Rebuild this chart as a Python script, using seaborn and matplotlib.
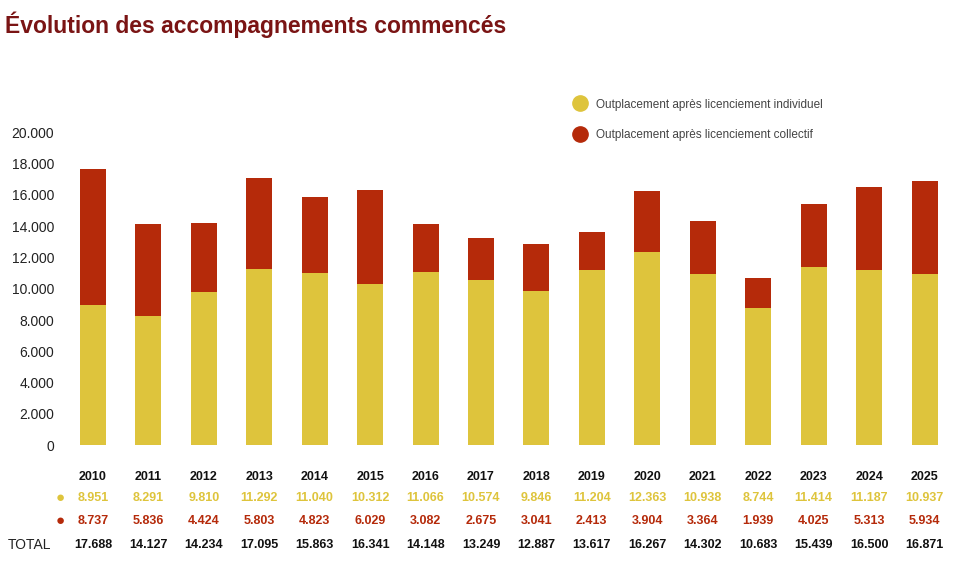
import pandas as pd
import matplotlib.pyplot as plt
import matplotlib.transforms as mtransforms
from matplotlib.lines import Line2D
import seaborn as sns

# Données
years = [str(y) for y in range(2010, 2026)]
individuel = [8951, 8291, 9810, 11292, 11040, 10312, 11066, 10574, 9846, 11204,
              12363, 10938, 8744, 11414, 11187, 10937]
collectif = [8737, 5836, 4424, 5803, 4823, 6029, 3082, 2675, 3041, 2413,
             3904, 3364, 1939, 4025, 5313, 5934]
totaux = [17688, 14127, 14234, 17095, 15863, 16341, 14148, 13249, 12887, 13617,
          16267, 14302, 10683, 15439, 16500, 16871]
yticks = list(range(0, 20001, 2000))

YELLOW = "#DEC43C"
RED = "#B52A0A"
TITLE = "#7A1414"

def fmt(v):
    return f"{v:,}".replace(",", ".")

df = pd.DataFrame({
    "Année": years,
    "Individuel": individuel,
    "Total": [a + b for a, b in zip(individuel, collectif)],
})

sns.set_style("white")
plt.rcParams["font.family"] = ["Liberation Sans", "DejaVu Sans"]

fig = plt.figure(figsize=(9.58, 5.61), dpi=100)
ax = fig.add_axes([0.068, 0.198, 0.926, 0.594])

sns.barplot(data=df, x="Année", y="Total", color=RED, width=0.47,
            saturation=1, linewidth=0, ax=ax)
sns.barplot(data=df, x="Année", y="Individuel", color=YELLOW, width=0.47,
            saturation=1, linewidth=0, ax=ax)

ax.set_xlim(-0.5, len(years) - 0.5)
ax.set_ylim(-300, 21000)
ax.set_yticks(yticks)
ax.set_yticklabels([fmt(t) for t in yticks], fontsize=10, color="#222222")
ax.set_xticks([])
ax.set_xlabel("")
ax.set_ylabel("")
ax.tick_params(axis="y", length=0, pad=8)
sns.despine(ax=ax, left=True, bottom=True)

# Tableau sous le graphique
trans = mtransforms.blended_transform_factory(ax.transData, fig.transFigure)
rows = [
    (years, "#111111", 1 - 477 / 561),
    ([fmt(v) for v in individuel], YELLOW, 1 - 498 / 561),
    ([fmt(v) for v in collectif], RED, 1 - 521 / 561),
    ([fmt(v) for v in totaux], "#111111", 1 - 545 / 561),
]
for labels, color, yf in rows:
    for i, lab in enumerate(labels):
        fig.text(i, yf, lab, transform=trans, ha="center", va="center",
                 fontsize=9, fontweight="bold", color=color)

fig.text(60 / 958, 1 - 498 / 561, "●", color=YELLOW, ha="center", va="center", fontsize=11)
fig.text(60 / 958, 1 - 521 / 561, "●", color=RED, ha="center", va="center", fontsize=11)
fig.text(8 / 958, 1 - 545 / 561, "TOTAL", color="#222222", ha="left", va="center", fontsize=10)

# Légende
handles = [
    Line2D([], [], marker="o", linestyle="", color=YELLOW, markersize=11),
    Line2D([], [], marker="o", linestyle="", color=RED, markersize=11),
]
fig.legend(handles, ["Outplacement après licenciement individuel",
                     "Outplacement après licenciement collectif"],
           loc="upper left", bbox_to_anchor=(558 / 958, 1 - 88 / 561),
           frameon=False, fontsize=8.5, labelspacing=1.55, handletextpad=0.3,
           labelcolor="#444444")

fig.text(5 / 958, 1 - 25 / 561, "Évolution des accompagnements commencés",
         ha="left", va="center", fontsize=16.5, fontweight="bold", color=TITLE)

fig.savefig("out.png", dpi=100)
